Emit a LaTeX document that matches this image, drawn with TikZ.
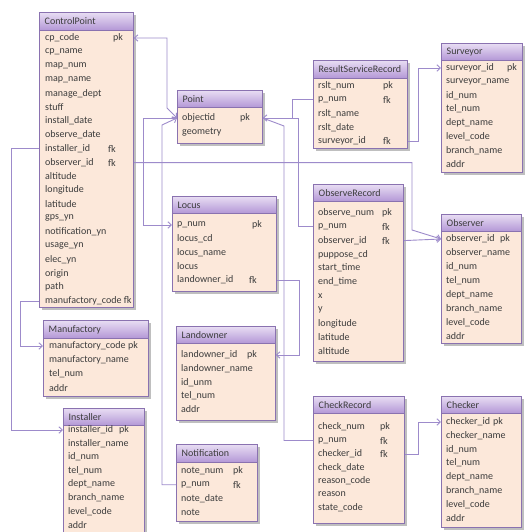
\documentclass[tikz,border=0pt]{standalone}
\usepackage{fontspec}
\setmainfont{Carlito}
\usetikzlibrary{arrows.meta,shadows,calc}
\definecolor{bodyc}{HTML}{FCE8DA}
\definecolor{headtop}{HTML}{E8DDF3}
\definecolor{headbot}{HTML}{B397D6}
\definecolor{framec}{HTML}{8A72B0}
\definecolor{linec}{HTML}{9D8BCB}
\definecolor{txt}{HTML}{3C3C3C}
\tikzset{
  body/.style={draw=framec, line width=0.8pt, fill=bodyc, rectangle, inner sep=0pt,
    drop shadow={shadow xshift=2.5pt, shadow yshift=-2.5pt, fill=black!55, opacity=0.45}},
  head/.style={draw=framec, line width=0.8pt, top color=headtop, bottom color=headbot, rectangle, inner sep=0pt},
  field/.style={inner sep=0pt, anchor=west, text=txt, font=\fontsize{10}{12}\selectfont},
  conn/.style={draw=linec, line width=0.9pt},
  arr/.style={-{Straight Barb[length=3.5pt,width=6.5pt]}},
  arrb/.style={{Straight Barb[length=3.5pt,width=6.5pt]}-{Straight Barb[length=3.5pt,width=6.5pt]}},
}
\newcommand\ertable[7]{% name, x, y, w, h, header h, title
  \node[body, minimum width=#4pt, minimum height=#5pt, anchor=north west] (#1) at (#2,#3) {};
  \node[head, minimum width=#4pt, minimum height=#6pt, anchor=north west] (#1-h) at (#2,#3) {};
  \node[field] (#1-t) at ($(#1-h.west)+(5.5,0)$) {#7};
}
\newcommand\errows[5]{% name, x, y0, dy, list
  \foreach \fname [count=\i] in {#5} {
    \node[field] (#1-\i) at (#2,{#3+#4*(\i-1)}) {\fname};
  }
}
\begin{document}
\begin{tikzpicture}[x=1pt,y=-1pt]
\useasboundingbox (0,0) rectangle (528,532);
\fill[white] (0,0) rectangle (528,532);

% ControlPoint
\ertable{cp}{39}{12}{94}{295}{18}{ControlPoint}
\errows{cp}{45}{38}{13.85}{cp\_code,cp\_name,map\_num,map\_name,manage\_dept,stuff,install\_date,observe\_date,installer\_id,observer\_id,altitude,longitude,latitude,gps\_yn,notification\_yn,usage\_yn,elec\_yn,origin,path,manufactory\_code fk}
\node[field] (cp-k1) at (113,38) {pk};
\node[field] (cp-k9) at (108,148.8) {fk};
\node[field] (cp-k10) at (108,162.65) {fk};

% Point
\ertable{pt}{177}{90}{85}{53}{17}{Point}
\errows{pt}{182}{118}{14}{objectid,geometry}
\node[field] (pt-k1) at (240,118) {pk};

% Locus
\ertable{lo}{172}{196}{104}{95}{17}{Locus}
\errows{lo}{177}{225}{13.75}{p\_num,locus\_cd,locus\_name,locus,landowner\_id}
\node[field] (lo-k1) at (252,225) {pk};
\node[field] (lo-k5) at (249,280) {fk};

% Landowner
\ertable{lw}{176}{326}{99}{94}{17}{Landowner}
\errows{lw}{181}{355}{13.6}{landowner\_id,landowner\_name,id\_unm,tel\_num,addr}
\node[field] (lw-k1) at (247,355) {pk};

% Notification
\ertable{nt}{176}{444}{81}{77}{18}{Notification}
\errows{nt}{181}{471}{13.75}{note\_num,p\_num,note\_date,note}
\node[field] (nt-k1) at (233,471) {pk};
\node[field] (nt-k2) at (233,484.75) {fk};

% Manufactory
\ertable{mf}{43}{320}{105}{76}{18}{Manufactory}
\errows{mf}{49}{346}{14}{manufactory\_code,manufactory\_name,tel\_num,addr}
\node[field] (mf-k1) at (128,346) {pk};

% Installer
\ertable{in}{63}{408}{81}{130}{17}{Installer}
\errows{in}{68}{430}{13.55}{installer\_id,installer\_name,id\_num,tel\_num,dept\_name,branch\_name,level\_code,addr}
\node[field] (in-k1) at (119,430) {pk};

% ResultServiceRecord
\ertable{rs}{313}{60}{94}{88}{18}{ResultServiceRecord}
\errows{rs}{318}{86}{13.75}{rslt\_num,p\_num,rslt\_name,rslt\_date,surveyor\_id}
\node[field] (rs-k1) at (383,86) {pk};
\node[field] (rs-k2) at (383,99.75) {fk};
\node[field] (rs-k5) at (383,141) {fk};

% Surveyor
\ertable{sv}{441}{43}{81}{129}{17}{Surveyor}
\errows{sv}{446}{68}{13.7}{surveyor\_id,surveyor\_name,id\_num,tel\_num,dept\_name,level\_code,branch\_name,addr}
\node[field] (sv-k1) at (507,68) {pk};

% ObserveRecord
\ertable{or}{313}{184}{90}{177}{17}{ObserveRecord}
\errows{or}{318}{213}{13.8}{observe\_num,p\_num,observer\_id,puppose\_cd,start\_time,end\_time,x,y,longitude,latitude,altitude}
\node[field] (or-k1) at (382,213) {pk};
\node[field] (or-k2) at (382,226.8) {fk};
\node[field] (or-k3) at (382,240.6) {fk};

% Observer
\ertable{ob}{441}{214}{80}{129}{17}{Observer}
\errows{ob}{446}{239}{13.9}{observer\_id,observer\_name,id\_num,tel\_num,dept\_name,branch\_name,level\_code,addr}
\node[field] (ob-k1) at (500,239) {pk};

% CheckRecord
\ertable{ck}{313}{396}{91}{127}{17}{CheckRecord}
\errows{ck}{318}{427}{13.5}{check\_num,p\_num,checker\_id,check\_date,reason\_code,reason,state\_code}
\node[field] (ck-k1) at (380,427) {pk};
\node[field] (ck-k2) at (380,440.5) {fk};
\node[field] (ck-k3) at (380,454) {fk};

% Checker
\ertable{ch}{441}{396}{80}{131}{17}{Checker}
\errows{ch}{446}{422}{13.7}{checker\_id,checker\_name,id\_num,tel\_num,dept\_name,branch\_name,level\_code,addr}
\node[field] (ch-k1) at (493,422) {pk};

% connectors
\draw[conn,arrb] (cp.east |- cp-1) -| (167,108) -- (pt.west |- pt-1);
\draw[conn,arr] (pt.west |- pt-1) -- (143,118) -- (143,225) -- (lo.west |- lo-1);
\draw[conn,arr] (nt.west |- nt-2) -- (162,484.75) -- (162,125) -- (pt.west |- pt-1);
\draw[conn,arr] (rs.west |- rs-2) -| (292,118) -- (pt.east |- pt-1);
\draw[conn] (or.west |- or-2) -| (298,118) -- (pt.east |- pt-1);
\draw[conn] (ck.west |- ck-2) -| (284,126) -- (pt.east |- pt-1);
\draw[conn,arr] (lo.east |- lo-5) -| (299,355) -- (lw.east |- lw-1);
\draw[conn,arr] (cp.east |- cp-10) -| (412,230) -- (ob.west |- ob-1);
\draw[conn,arr] (or.east |- or-3) -- (ob.west |- ob-1);
\draw[conn,arr] (rs.east |- rs-5) -| (418,68) -- (sv.west |- sv-1);
\draw[conn,arr] (ck.east |- ck-3) -| (418,422) -- (ch.west |- ch-1);
\draw[conn,arr] (cp.west |- cp-20) -| (20,346) -- (mf.west |- mf-1);
\draw[conn,arr] (cp.west |- cp-9) -| (11,430) -- (in.west |- in-1);
\end{tikzpicture}
\end{document}
